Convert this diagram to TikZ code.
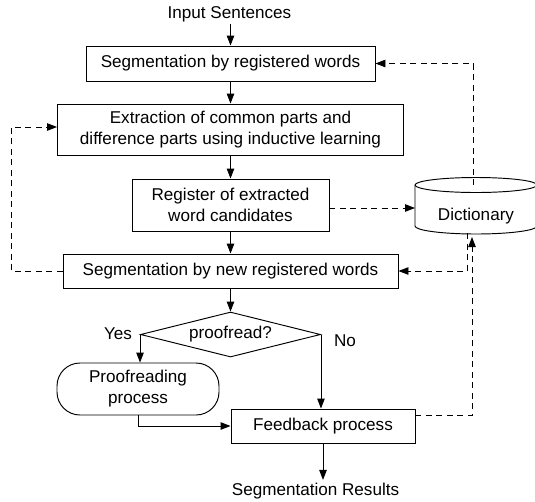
\documentclass[tikz,border=0pt]{standalone}
\usepackage{fontspec}
\setmainfont{Liberation Sans}
\usetikzlibrary{arrows.meta,shapes.geometric}
\begin{document}
\begin{tikzpicture}[x=1pt,y=-1pt,
  font=\fontsize{17.1}{21}\selectfont,
  proc/.style={draw, line width=0.95pt, inner sep=0pt, align=center},
  arr/.style={line width=0.95pt, -{Triangle[length=10pt,width=7.5pt]}},
  darr/.style={line width=0.95pt, dash pattern=on 6pt off 4.5pt, -{Triangle[length=10pt,width=7.5pt]}},
  shp/.style={line width=0.95pt},
  lbl/.style={inner sep=2.5pt}]
\useasboundingbox (0,0) rectangle (535,501);

% labels
\node[lbl, anchor=base] (inp) at (229.5,18) {Input Sentences};
\node[lbl, anchor=base] (res) at (315.5,495) {Segmentation Results};
\node[lbl] (yes) at (118,334) {Yes};
\node[lbl] (no) at (345,341) {No};

% process boxes
\node[proc, minimum width=289pt, minimum height=35pt] (b1) at (230.5,63.5) {Segmentation by registered words};
\node[proc, minimum width=346pt, minimum height=51pt] (b2) at (230.5,129.5) {Extraction of common parts and\\difference parts using inductive learning};
\node[proc, minimum width=197pt, minimum height=52pt] (b3) at (230.5,205) {Register of extracted\\word candidates};
\node[proc, minimum width=335pt, minimum height=34pt] (b4) at (230.5,271) {Segmentation by new registered words};
\node[draw, diamond, line width=0.95pt, inner sep=0pt, aspect=4, minimum width=180pt, minimum height=45pt] (dia) at (230.5,334.5) {proofread?};
\node[draw, line width=0.95pt, rounded corners=23pt, inner sep=0pt, align=center, minimum width=162pt, minimum height=52pt] (pr) at (138,389) {Proofreading\\process};
\node[proc, minimum width=184pt, minimum height=34pt] (fb) at (323,426) {Feedback process};

% dictionary (cylinder)
\draw[shp] (476,185) ellipse [x radius=61pt, y radius=7.5pt];
\draw[shp] (415,185) -- (415,226) arc[start angle=180, end angle=360, x radius=61pt, y radius=8pt];
\node[inner sep=0pt, anchor=base] (dict) at (476,220) {Dictionary};
\coordinate (dT) at (473,185);
\coordinate (dL) at (415,208);
\coordinate (dB1) at (467,233);
\coordinate (dB2) at (472,237);
\coordinate (lc) at (11,127);

% solid connectors
\draw[arr] (b1.north |- inp.south) -- (b1.north);
\draw[arr] (b1.south) -- (b2.north);
\draw[arr] (b2.south) -- (b3.north);
\draw[arr] (b3.south) -- (b4.north);
\draw[arr] (b4.south) -- (dia.north);
\draw[arr] (dia.west) -- (dia.west |- pr.north);
\draw[arr] (dia.east) -- (dia.east |- fb.north);
\draw[arr] (pr.south) |- (fb.west);
\draw[arr] (fb.south) -- (fb.south |- res.north);

% dashed connectors
\draw[darr] (dT) |- (b1.east);
\draw[darr] (b3.east |- dL) -- (dL);
\draw[darr] (dB1) |- (b4.east);
\draw[darr] ([yshift=-7pt]fb.north east) -| (dB2);
\draw[darr] (b4.west) -| (lc) -- (b2.west |- lc);
\end{tikzpicture}
\end{document}
